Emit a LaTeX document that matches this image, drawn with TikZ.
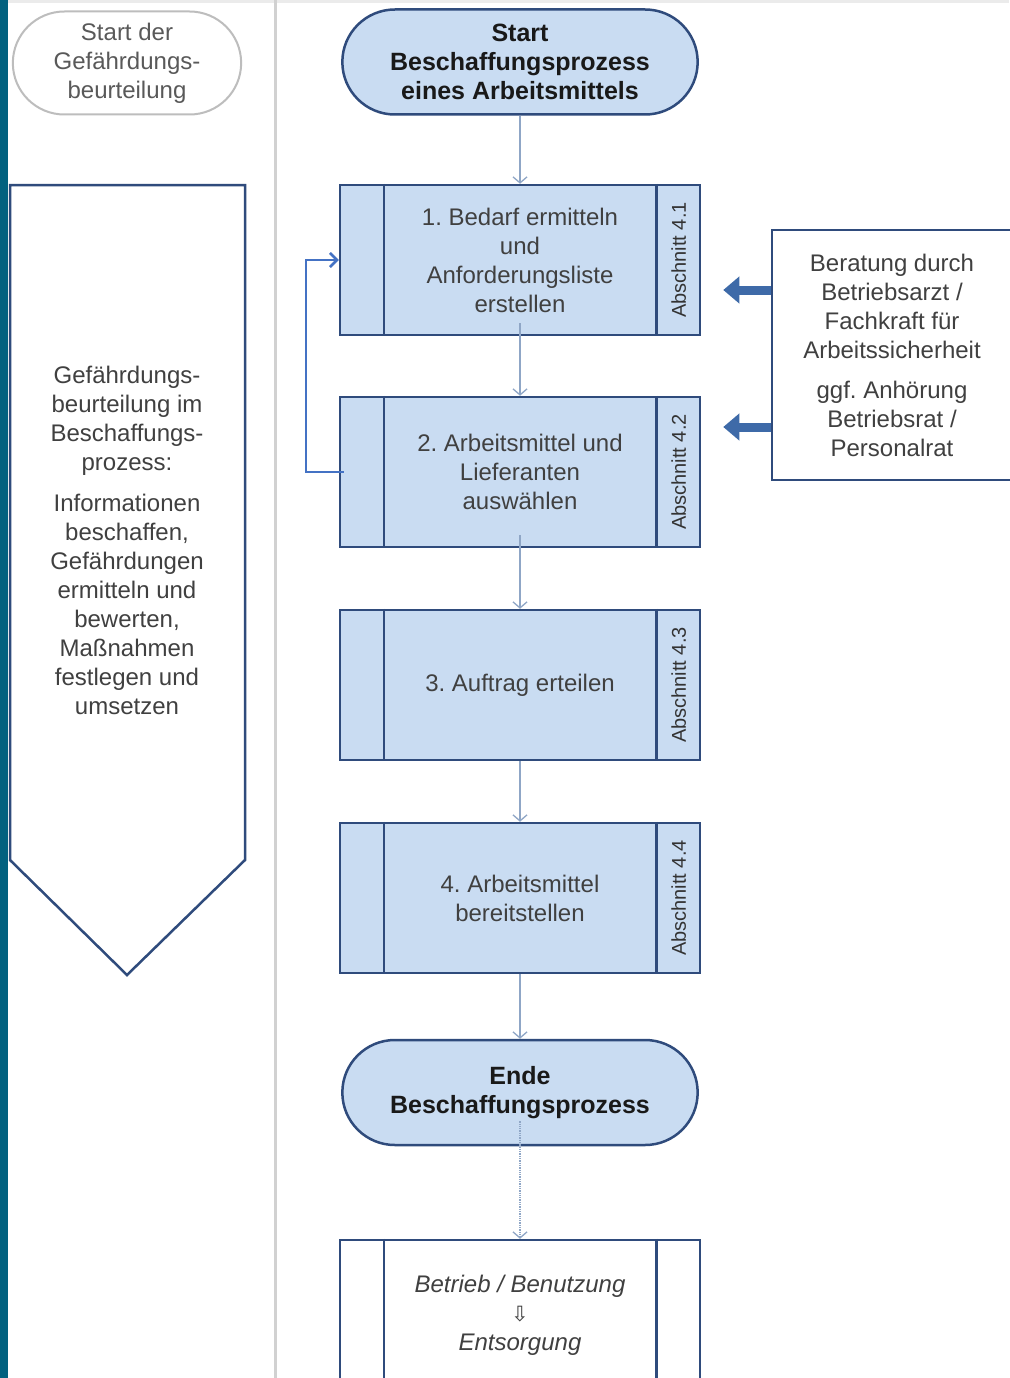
\documentclass[tikz,border=0pt]{standalone}
\usepackage{fontspec}
\setmainfont{Liberation Sans}
\newfontfamily\symfont{DejaVu Sans}
\usetikzlibrary{positioning,arrows.meta,shapes.misc}
\definecolor{NavyLine}{HTML}{2F4B7C}
\definecolor{BoxBlue}{HTML}{C9DCF2}
\definecolor{FlowGray}{HTML}{8FA6C6}
\definecolor{LoopBlue}{HTML}{4472C4}
\definecolor{BlockBlue}{HTML}{3E6AA8}
\definecolor{TextGray}{HTML}{404040}
\definecolor{SideGray}{HTML}{BDBDBD}
\definecolor{EdgeTeal}{HTML}{02617F}
\frenchspacing

\begin{document}
\begin{tikzpicture}[
  x=1pt, y=-1pt,
  node distance=70pt,
  txt/.style={font=\fontsize{24}{29}\selectfont, text=TextGray, align=center},
  % --- flow chart shapes ---
  term/.style={rounded rectangle, draw=NavyLine, line width=2.5pt, fill=BoxBlue,
    minimum width=362pt, minimum height=105pt, align=center, text=black!90,
    font=\fontsize{25}{29}\selectfont\bfseries},
  sidestart/.style={rounded rectangle, draw=SideGray, line width=2pt, fill=white,
    minimum width=235pt, minimum height=103pt, txt, text=black!65},
  proc/.style={rectangle, draw=NavyLine, line width=2.5pt, fill=BoxBlue,
    minimum width=360pt, minimum height=150pt, txt},
  procw/.style={proc, fill=white, font=\fontsize{24}{29}\selectfont\itshape},
  secl/.style={rotate=90, font=\fontsize{20}{22}\selectfont, text=black!80},
  info/.style={rectangle, draw=NavyLine, line width=2.5pt, fill=white,
    minimum width=240pt, minimum height=250pt, txt},
  pent/.style={draw=NavyLine, line width=2.5pt, fill=white, line join=miter},
  % --- connectors ---
  flow/.style={-{Straight Barb[length=6pt,width=14pt]}, FlowGray, line width=1.3pt},
  loop/.style={-{Straight Barb[length=7pt,width=14pt]}, LoopBlue, line width=2.5pt},
  blockarr/.style={-{Triangle[length=16pt,width=26pt]}, BlockBlue, line width=9pt},
]
\useasboundingbox (0,0) rectangle (1009,1378);
\fill[white] (0,0) rectangle (1009,1378);
\fill[black!8] (0,0) rectangle (1009,3);
\fill[EdgeTeal] (0,0) rectangle (8,1378);
\draw[black!18, line width=3pt] (275,0) -- (275,1378);

% =================== LEFT COLUMN ===================
\node[sidestart] (gbStart) at (127,63) {Start der\\Gefährdungs-\\beurteilung};

\draw[pent] (10,185) -- (245,185) -- (245,860) -- (127,975) -- (10,860) -- cycle;
\node[txt] (gbText) at (127,540)
  {Gefährdungs-\\beurteilung im\\Beschaffungs-\\prozess:\\[12pt]
   Informationen\\beschaffen,\\Gefährdungen\\ermitteln und\\bewerten,\\Maßnahmen\\festlegen und\\umsetzen};

% =================== MAIN FLOW ===================
\node[term] (start) at (520,62) {Start\\Beschaffungsprozess\\eines Arbeitsmittels};

\node[proc, below=68pt of start] (b1) {1. Bedarf ermitteln\\und\\Anforderungsliste\\erstellen};
\node[proc, below=59.5pt of b1] (b2) {2. Arbeitsmittel und\\Lieferanten\\auswählen};
\node[proc, below=60.5pt of b2] (b3) {3. Auftrag erteilen};
\node[proc, below=60.5pt of b3] (b4) {4. Arbeitsmittel\\bereitstellen};
\node[term, below=64.5pt of b4] (ende) {Ende\\Beschaffungsprozess};
\node[procw, below=92.5pt of ende] (b5)
  {Betrieb / Benutzung\\{\upshape\symfont\fontsize{21}{21}\selectfont ⇩}\\Entsorgung};

% side strips
\foreach \n in {b1,b2,b3,b4,b5} {
  \draw[NavyLine, line width=2.5pt] ([xshift=45pt]\n.north west) -- ([xshift=45pt]\n.south west);
  \draw[NavyLine, line width=2.5pt] ([xshift=-45pt]\n.north east) -- ([xshift=-45pt]\n.south east);
}
\node[secl] (s1) at ([xshift=-22.5pt]b1.east) {Abschnitt 4.1};
\node[secl] (s2) at ([xshift=-22.5pt]b2.east) {Abschnitt 4.2};
\node[secl] (s3) at ([xshift=-22.5pt]b3.east) {Abschnitt 4.3};
\node[secl] (s4) at ([xshift=-22.5pt]b4.east) {Abschnitt 4.4};

% =================== CONSULTATION ===================
\node[info] (ber) at (892,355)
  {Beratung durch\\Betriebsarzt /\\Fachkraft für\\Arbeitssicherheit\\[11pt]
   ggf. Anhörung\\Betriebsrat /\\Personalrat};

% =================== RELATIONS ===================
\draw[flow] (start.south) -- (b1.north);
\draw[flow] ([yshift=13pt]b1.south) -- (b2.north);
\draw[flow] ([yshift=13pt]b2.south) -- (b3.north);
\draw[flow] (b3.south) -- (b4.north);
\draw[flow] (b4.south) -- (ende.north);
\draw[flow, densely dotted] ([yshift=25pt]ende.south) -- (b5.north);

% back loop 2 -> 1
\draw[loop] ([xshift=5pt]b2.west) -- ++(-38,0) |- (b1.west);

% consultation feeds steps 1 and 2
\draw[blockarr] ([yshift=65pt]ber.west) -- ([yshift=65pt,xshift=22pt]ber.west -| b1.east);
\draw[blockarr] ([yshift=-72pt]ber.west) -- ([yshift=-72pt,xshift=22pt]ber.west -| b2.east);

\end{tikzpicture}
\end{document}
